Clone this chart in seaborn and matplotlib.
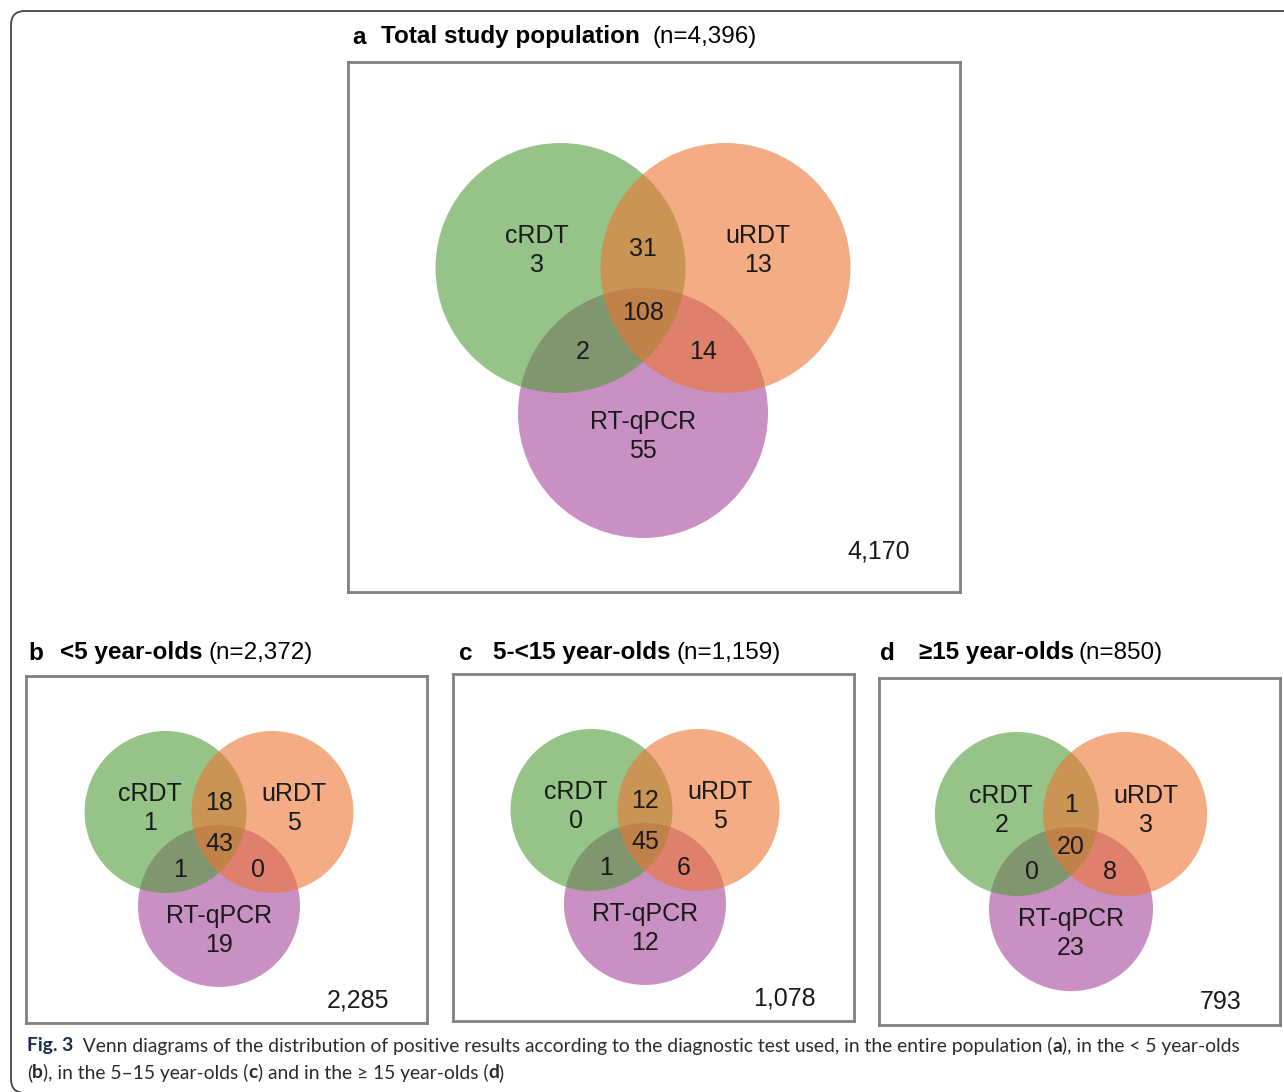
import numpy as np
import matplotlib
matplotlib.use("Agg")
import matplotlib.pyplot as plt
import seaborn as sns
from matplotlib.patches import Circle, FancyBboxPatch

sns.set_theme(style="white")
plt.rcParams['font.family'] = ['Liberation Sans', 'DejaVu Sans']

# data
set_names = ["cRDT", "uRDT", "RT-qPCR"]
panel_ids = ["a", "b", "c", "d"]
panel_titles = ["Total study population", "<5 year-olds", "5-<15 year-olds", "\u226515 year-olds"]
panel_n = ["(n=4,396)", "(n=2,372)", "(n=1,159)", "(n=850)"]
only_crdt = [3, 1, 0, 2]
only_urdt = [13, 5, 5, 3]
only_pcr = [55, 19, 12, 23]
crdt_urdt = [31, 18, 12, 1]
crdt_pcr = [2, 1, 1, 0]
urdt_pcr = [14, 0, 6, 8]
all_three = [108, 43, 45, 20]
negatives = ["4,170", "2,285", "1,078", "793"]

# colours (drawn with alpha so overlaps mix)
set_colors = {"cRDT": "#509b37", "uRDT": "#ed7532", "RT-qPCR": "#a5489b"}

# panel boxes in pixels: left, right, top, bottom ; diagram centre and circle radius
boxes = [(348, 960, 62, 592), (26, 427, 676, 1023), (453, 854, 674, 1021), (879, 1280, 678, 1025)]
centres = [(643, 268, 125), (219, 812, 81), (645, 810, 81), (1071, 814, 82)]

W, H = 1284, 1092
fig = plt.figure(figsize=(W / 100, H / 100), dpi=100)
bg = fig.add_axes([0, 0, 1, 1])
bg.set_xlim(0, W)
bg.set_ylim(H, 0)
bg.axis("off")

# outer rounded frame
bg.add_patch(FancyBboxPatch((11, 11), 1300, 1082, boxstyle="round,pad=0,rounding_size=14",
                            fill=False, edgecolor="#444444", linewidth=1.3))

txt = "#1a1a1a"
for i in range(4):
    l, r, t, b = boxes[i]
    cx, cy, rad = centres[i]
    ax = fig.add_axes([l / W, 1 - b / H, (r - l) / W, (b - t) / H])
    ax.set_xlim((l - cx) / rad, (r - cx) / rad)
    ax.set_ylim((cy - b) / rad, (cy - t) / rad)
    ax.set_xticks([])
    ax.set_yticks([])
    ax.set_facecolor("white")
    for sp in ax.spines.values():
        sp.set_color("#808080")
        sp.set_linewidth(2)
        sp.set_visible(True)

    big = i == 0
    dx = 0.66
    dy = -1.16
    pos = {"RT-qPCR": (0, dy), "cRDT": (-dx, 0), "uRDT": (dx, 0)}
    for name in ["RT-qPCR", "cRDT", "uRDT"]:
        ax.add_patch(Circle(pos[name], 1.0, facecolor=set_colors[name], alpha=0.6, edgecolor="none"))

    name_y = 0.14 if big else 0.045
    pair_y = 0.15 if big else 0.11
    mid_y = -0.36 if big else -0.40
    side_y = -0.67 if big else -0.71
    pcr_y = -1.35 if big else -1.46
    fs = 18
    ls = 1.25
    ax.text(-0.85, name_y, f"cRDT\n{only_crdt[i]}", ha="center", va="center", fontsize=fs, color=txt, linespacing=ls)
    ax.text(0.92, name_y, f"uRDT\n{only_urdt[i]}", ha="center", va="center", fontsize=fs, color=txt, linespacing=ls)
    ax.text(0, pcr_y, f"RT-qPCR\n{only_pcr[i]}", ha="center", va="center", fontsize=fs, color=txt, linespacing=ls)
    ax.text(0, pair_y, str(crdt_urdt[i]), ha="center", va="center", fontsize=fs, color=txt)
    ax.text(0, mid_y, str(all_three[i]), ha="center", va="center", fontsize=fs, color=txt)
    ax.text(-0.48, side_y, str(crdt_pcr[i]), ha="center", va="center", fontsize=fs, color=txt)
    ax.text(0.48, side_y, str(urdt_pcr[i]), ha="center", va="center", fontsize=fs, color=txt)
    ax.text(0.918 if big else 0.905, 0.077 if big else 0.066, negatives[i], transform=ax.transAxes,
            ha="right", va="center", fontsize=fs, color=txt)

# panel titles
title_x = [(352, 381, 653), (28, 60, 208), (459, 493, 677), (880, 919, 1079)]
title_y = [37, 653, 653, 653]
for i in range(4):
    x0, x1, x2 = title_x[i]
    y = title_y[i]
    bg.text(x0, y, panel_ids[i], fontsize=17.5, fontweight="bold", ha="left", va="center", color="black")
    bg.text(x1, y, panel_titles[i], fontsize=17.5, fontweight="bold", ha="left", va="center", color="black")
    bg.text(x2, y, panel_n[i], fontsize=17.5, ha="left", va="center", color="black")

# caption with mixed weights
fig.canvas.draw()
renderer = fig.canvas.get_renderer()


def rich(x, y, parts, size=13.9):
    for s, weight, col in parts:
        t = bg.text(x, y, s, fontsize=size, fontweight=weight, ha="left", va="center",
                    color=col, family=["Lato", "DejaVu Sans"])
        x += t.get_window_extent(renderer).width


navy = "#1d2b4f"
grey = "#2b2b2b"
rich(27, 1046, [("Fig. 3", "bold", navy),
                ("  Venn diagrams of the distribution of positive results according to the diagnostic test used, in the entire population (", "normal", grey),
                ("a", "bold", grey), ("), in the < 5 year-olds", "normal", grey)])
rich(27, 1073, [("(", "normal", grey), ("b", "bold", grey), ("), in the 5\u201315 year-olds (", "normal", grey),
                ("c", "bold", grey), (") and in the \u2265 15 year-olds (", "normal", grey),
                ("d", "bold", grey), (")", "normal", grey)])

fig.savefig("out.png", dpi=100)
